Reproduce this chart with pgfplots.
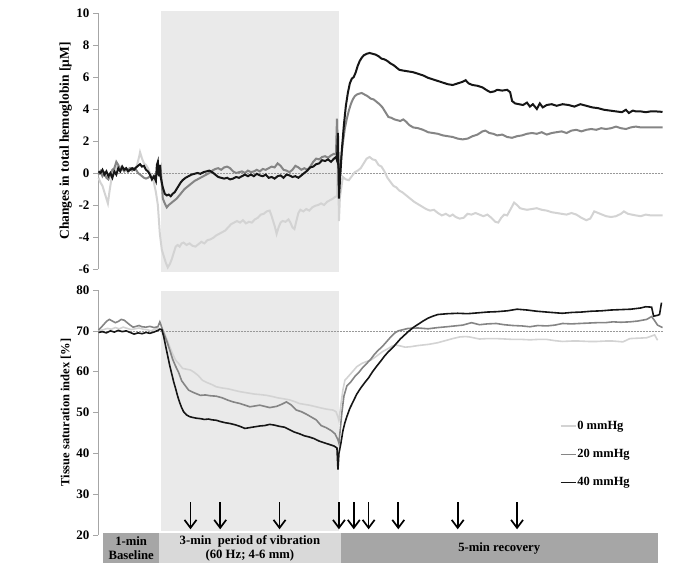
\documentclass[border=0pt]{standalone}
\usepackage{pgfplots}
\pgfplotsset{compat=1.18}
\usepackage{fontspec}
\setmainfont{Liberation Serif}
\usetikzlibrary{arrows.meta}

\definecolor{c0}{HTML}{D3D3D3}
\definecolor{c20}{HTML}{858585}
\definecolor{c40}{HTML}{161616}
\definecolor{bggray}{HTML}{EAEAEA}
\definecolor{barlight}{HTML}{D9D9D9}
\definecolor{bardark}{HTML}{A6A6A6}

\newcommand{\lblfont}{\fontsize{12.7}{14}\selectfont\bfseries}

\pgfplotsset{
  panel/.style={
    scale only axis,
    width=565pt,
    xmin=-3.5, xmax=567.5,
    axis x line=none,
    axis y line*=left,
    y axis line style={gray!70, line width=0.6pt},
    ytick pos=left,
    tick align=outside,
    major tick length=5pt,
    every tick/.style={gray!70, line width=0.6pt},
    clip=false,
    /pgf/number format/assume math mode=true,
    yticklabel style={font=\fontsize{13}{13}\selectfont\bfseries},
    ylabel style={at={(axis description cs:-0.057,0.5)}, anchor=center},
  },
}

\begin{document}
\begin{tikzpicture}
\useasboundingbox (0,0) rectangle (685pt,574pt);

% ---------------- top panel: total hemoglobin ----------------
\begin{axis}[panel,
    at={(98pt,305pt)}, anchor=south west,
    height=256pt,
    ymin=-6, ymax=10,
    ytick={-6,-4,...,10},
    ylabel={\fontsize{13.5}{14}\selectfont\bfseries Changes in total hemoglobin [μM]},
  ]
  \fill[bggray] (axis cs:60,-6.2) rectangle (axis cs:240,10.1);
  \draw[gray!80, densely dotted, line width=0.5pt] (axis cs:-3.5,0) -- (axis cs:567.5,0);

  \addplot[c0, line width=2pt] coordinates {
    (-3,-0.3)(-1,-0.6)(1,-0.8)(3,-1.2)(5,-1.6)(6.5,-1.9)(8,-1.2)(10,-0.4)(12,0.0)(14,0.2)
    (16,0.5)(18,0.3)(20,0.4)(22,0.2)(24,0.3)(26,0.1)(28,0.3)(30,0.2)(32,0.3)(34,0.2)
    (36,0.5)(38,1.0)(39,1.3)(41,0.9)(43,0.6)(45,0.5)(47,0.3)(49,0.0)(51,-0.2)(53,-0.6)
    (55,-1.2)(57,-2.0)(59,-3.8)(61,-4.8)(63,-5.2)(65,-5.6)(67,-5.9)(69,-5.7)(71,-5.4)(73,-5.0)
    (75,-4.6)(77,-4.5)(79,-4.6)(81,-4.4)(83,-4.35)(86,-4.5)(89,-4.4)(92,-4.55)(95,-4.6)(98,-4.45)
    (101,-4.3)(104,-4.4)(107,-4.2)(110,-4.15)(113,-4.05)(116,-3.9)(119,-3.8)(122,-3.7)(125,-3.6)(128,-3.4)
    (131,-3.2)(134,-3.1)(137,-3.0)(140,-3.1)(143,-2.95)(146,-3.15)(149,-3.05)(152,-3.1)(155,-2.9)(158,-2.8)
    (161,-2.6)(164,-2.55)(167,-2.4)(170,-2.35)(172,-2.7)(175,-3.3)(177,-3.8)(179,-3.4)(181,-3.1)(183,-3.0)
    (186,-3.05)(189,-2.9)(191,-3.1)(193,-3.4)(195,-3.5)(197,-3.0)(199,-2.5)(201,-2.3)(204,-2.4)(207,-2.25)
    (210,-2.35)(213,-2.15)(216,-2.05)(219,-2.0)(222,-1.9)(225,-2.0)(228,-1.8)(231,-1.7)(234,-1.6)(236,-1.5)
    (238,-1.45)(239,1.1)(239.5,-0.5)(240,-3.0)(241,-1.5)(244,-0.25)(247,-0.4)(250,-0.45)(253,-0.2)(256,0.05)
    (259,0.15)(262,0.3)(265,0.6)(268,0.9)(271,1.0)(274,0.85)(277,0.8)(280,0.5)(283,0.4)(286,0.1)
    (289,-0.3)(292,-0.55)(295,-0.8)(298,-0.9)(301,-1.1)(304,-1.2)(308,-1.4)(312,-1.6)(316,-1.8)(320,-1.95)
    (324,-2.1)(328,-2.25)(332,-2.35)(336,-2.3)(340,-2.5)(344,-2.65)(348,-2.55)(352,-2.7)(355,-2.6)(358,-2.75)
    (362,-2.85)(366,-2.8)(370,-2.55)(374,-2.6)(378,-2.5)(382,-2.6)(386,-2.7)(390,-2.6)(394,-2.8)(398,-3.05)
    (401,-3.1)(404,-2.8)(407,-2.6)(410,-2.65)(414,-2.2)(417,-1.85)(420,-2.0)(423,-2.2)(426,-2.25)(430,-2.3)
    (435,-2.25)(440,-2.2)(445,-2.3)(450,-2.35)(455,-2.45)(460,-2.5)(465,-2.55)(470,-2.6)(475,-2.5)(480,-2.6)
    (485,-2.8)(490,-2.95)(494,-2.85)(498,-2.4)(502,-2.5)(506,-2.6)(510,-2.7)(515,-2.75)(520,-2.7)(525,-2.55)
    (528,-2.4)(532,-2.55)(536,-2.6)(540,-2.65)(545,-2.7)(550,-2.6)(555,-2.65)(560,-2.65)(567,-2.65)
  };
  \addplot[c20, line width=2pt] coordinates {
    (-3,-0.1)(-1,0.1)(1,-0.2)(3,0.0)(5,-0.3)(7,-0.4)(9,-0.1)(11,0.2)(13,0.3)(15,0.7)
    (17,0.5)(19,0.2)(21,0.3)(23,0.1)(25,0.25)(27,0.2)(29,0.3)(31,0.15)(33,0.3)(35,0.2)
    (37,0.0)(39,-0.1)(41,-0.2)(43,-0.3)(45,-0.35)(47,-0.3)(49,-0.2)(51,-0.3)(53,-0.25)(55,-0.2)
    (57,0.3)(59,-0.1)(60,0.2)(62,-1.6)(64,-1.9)(66,-2.15)(68,-2.0)(70,-1.9)(72,-1.8)(74,-1.7)
    (76,-1.6)(78,-1.45)(80,-1.3)(82,-1.15)(84,-1.0)(86,-0.9)(88,-0.8)(91,-0.65)(94,-0.5)(97,-0.4)
    (100,-0.3)(103,-0.2)(106,-0.1)(109,0.0)(112,0.15)(115,0.25)(118,0.3)(121,0.2)(124,0.35)(127,0.4)
    (130,0.3)(133,0.1)(136,0.0)(139,0.05)(142,0.1)(145,0.0)(148,0.15)(151,0.05)(154,0.1)(157,0.2)
    (160,0.1)(163,0.25)(166,0.2)(169,0.3)(172,0.4)(175,0.35)(178,0.6)(181,0.45)(184,0.2)(187,0.15)
    (190,0.05)(193,0.2)(196,0.45)(199,0.35)(202,0.2)(205,0.3)(208,0.2)(211,0.4)(214,0.7)(217,0.9)
    (220,0.85)(223,1.0)(226,1.05)(229,0.95)(232,1.1)(235,1.2)(237,1.15)(238,3.4)(239,1.0)(240,-0.9)
    (242,0.8)(244,1.9)(246,2.8)(248,3.4)(250,3.9)(252,4.3)(254,4.6)(256,4.8)(258,4.9)(260,4.95)
    (263,5.0)(266,4.9)(269,4.8)(272,4.65)(275,4.6)(278,4.45)(281,4.3)(284,4.1)(287,3.8)(290,3.5)
    (293,3.45)(296,3.35)(299,3.3)(302,3.25)(305,3.35)(308,3.2)(311,3.0)(315,2.85)(320,2.8)(325,2.7)
    (330,2.55)(335,2.5)(340,2.45)(345,2.35)(350,2.3)(355,2.25)(360,2.15)(365,2.1)(370,2.15)(375,2.3)
    (380,2.4)(385,2.6)(388,2.65)(392,2.5)(396,2.45)(400,2.35)(405,2.4)(410,2.25)(415,2.2)(420,2.3)
    (425,2.35)(430,2.45)(435,2.5)(440,2.45)(445,2.55)(450,2.4)(455,2.5)(460,2.55)(465,2.6)(470,2.5)
    (475,2.65)(480,2.7)(485,2.6)(490,2.7)(495,2.75)(500,2.7)(505,2.8)(510,2.75)(515,2.8)(520,2.9)
    (525,2.8)(530,2.75)(535,2.85)(540,2.9)(545,2.85)(550,2.85)(555,2.85)(560,2.85)(567,2.85)
  };
  \addplot[c40, line width=2pt] coordinates {
    (-3,0.1)(-1,0.0)(1,0.2)(3,-0.1)(5,0.1)(7,-0.2)(9,0.0)(11,-0.3)(13,0.1)(15,-0.1)
    (17,0.3)(19,0.1)(21,0.4)(23,0.2)(25,0.3)(27,0.1)(29,0.2)(31,0.3)(33,0.2)(35,0.35)
    (37,0.45)(39,0.55)(41,0.4)(43,0.45)(45,0.2)(47,0.1)(49,-0.1)(51,-0.4)(53,-0.2)(55,-0.5)
    (56,0.5)(57,0.7)(58,-0.2)(59,0.5)(60,-0.3)(62,-0.9)(64,-1.3)(66,-1.4)(68,-1.35)(70,-1.45)
    (72,-1.3)(74,-1.2)(76,-1.0)(78,-0.8)(80,-0.6)(82,-0.45)(85,-0.3)(88,-0.2)(91,-0.1)(94,-0.05)
    (97,0.0)(100,-0.05)(103,0.05)(106,0.1)(109,0.15)(112,0.05)(115,-0.1)(118,-0.25)(121,-0.3)(124,-0.35)
    (127,-0.3)(130,-0.4)(133,-0.35)(136,-0.25)(139,-0.3)(142,-0.2)(145,-0.1)(148,-0.2)(151,-0.1)(154,-0.2)
    (157,-0.05)(160,-0.15)(163,-0.2)(166,-0.1)(169,-0.3)(172,-0.25)(175,-0.35)(178,-0.2)(181,-0.15)(184,-0.3)
    (187,-0.1)(190,-0.15)(193,-0.25)(196,-0.2)(199,-0.3)(202,-0.15)(205,0.0)(208,0.15)(211,0.35)(214,0.4)
    (217,0.55)(220,0.6)(223,0.8)(226,0.75)(229,0.85)(232,0.7)(235,0.9)(237,1.0)(238,0.8)(239,2.5)
    (239.5,0.5)(240,-1.6)(241,-0.5)(243,1.5)(245,3.0)(247,4.2)(249,5.0)(251,5.6)(253,5.9)(255,6.0)
    (257,6.3)(259,6.7)(261,7.0)(263,7.2)(265,7.35)(268,7.45)(271,7.5)(274,7.45)(277,7.4)(280,7.3)
    (283,7.15)(286,7.1)(289,7.0)(292,6.85)(295,6.75)(298,6.6)(301,6.45)(305,6.4)(310,6.35)(315,6.3)
    (320,6.2)(325,6.1)(330,5.95)(335,5.85)(340,5.75)(345,5.65)(350,5.55)(355,5.5)(360,5.6)(365,5.7)
    (368,5.8)(371,5.6)(375,5.5)(380,5.45)(385,5.35)(390,5.15)(393,5.05)(397,5.1)(400,5.2)(405,5.15)
    (410,5.2)(413,5.05)(415,4.5)(418,4.35)(422,4.3)(426,4.25)(430,4.4)(433,4.15)(436,4.3)(440,4.0)
    (443,4.35)(446,4.1)(450,4.25)(455,4.3)(460,4.2)(466,4.3)(472,4.25)(478,4.15)(484,4.3)(490,4.2)
    (496,4.1)(502,4.05)(508,3.95)(514,3.9)(520,3.85)(526,3.8)(530,3.95)(533,3.75)(537,3.9)(540,3.85)
    (545,3.85)(550,3.8)(555,3.85)(560,3.85)(567,3.82)
  };
\end{axis}

% ---------------- bottom panel: tissue saturation index ----------------
\begin{axis}[panel,
    at={(98pt,39pt)}, anchor=south west,
    height=245pt,
    ymin=20, ymax=80,
    ytick={20,30,...,80},
    ylabel={\fontsize{12.5}{13}\selectfont\bfseries Tissue saturation index [\%]},
    legend style={at={(rel axis cs:0.817,0.47)}, anchor=north west, draw=none, fill=none,
      row sep=16.5pt, inner sep=0pt,
      nodes={inner sep=1pt}},
    legend cell align=left,
    legend image code/.code={\draw[#1, line width=1.5pt] (0pt,0pt) -- (15pt,0pt);},
  ]
  \fill[bggray] (axis cs:60,21.1) rectangle (axis cs:240,79.8);
  \draw[gray!80, densely dotted, line width=0.5pt] (axis cs:-3.5,70) -- (axis cs:567.5,70);

  % phase bar
  \fill[bardark]  (axis cs:1.5,13.25) rectangle (axis cs:58.5,20.6);
  \fill[barlight] (axis cs:58.5,13.25) rectangle (axis cs:242,20.6);
  \fill[bardark]  (axis cs:242,13.25) rectangle (axis cs:562,20.6);
  \node[font=\lblfont, align=center] at (axis cs:30,16.8) {1-min\\Baseline};
  \node[font=\lblfont, align=center] at (axis cs:150,16.8) {3-min\ \ period of vibration\\(60 Hz; 4-6 mm)};
  \node[font=\lblfont] at (axis cs:402,16.7) {5-min recovery};

  % sampling arrows
  \pgfplotsinvokeforeach{90,120,180,240,255,270,300,360,420}{
    \draw[line width=1.7pt, -{Straight Barb[length=8pt, width=12pt, line width=1.7pt]}]
      (axis cs:#1,28.0) -- (axis cs:#1,21.4);
  }

  \addplot[c0, line width=1.6pt] coordinates {
    (-3,70.0)(2,70.3)(6,70.6)(10,70.4)(14,70.8)(18,70.5)(22,70.9)(26,70.6)(30,70.3)(34,70.5)
    (38,70.7)(42,70.4)(46,70.3)(50,70.0)(54,70.4)(58,70.6)(61,70.3)(63,69.8)(66,68.0)(69,66.1)
    (72,64.3)(75,62.8)(78,62.0)(82,60.8)(86,60.6)(90,60.4)(94,59.8)(98,59.0)(102,57.9)(107,57.3)
    (112,56.8)(116,56.3)(122,56.0)(128,55.8)(133,55.5)(140,55.1)(145,54.9)(150,54.7)(155,54.5)(160,54.4)
    (167,54.2)(173,53.9)(178,53.6)(183,53.4)(190,53.1)(195,52.7)(200,52.2)(205,52.0)(210,51.8)(217,51.4)
    (222,51.1)(228,50.8)(234,50.6)(237,50.2)(239,48.9)(240,48.0)(242,52.0)(244,55.5)(246,57.9)(249,58.7)
    (253,59.8)(258,61.2)(263,62.0)(268,62.5)(272,62.8)(278,63.8)(284,64.9)(290,65.7)(294,66.3)(298,66.5)
    (302,66.3)(307,66.0)(312,66.1)(320,66.4)(331,66.7)(340,67.1)(349,67.7)(355,68.1)(362,68.5)(368,68.6)
    (372,68.5)(382,68.0)(390,68.1)(399,68.1)(408,68.0)(416,67.9)(425,67.9)(433,67.8)(441,67.9)(450,67.9)
    (458,67.6)(466,67.4)(475,67.5)(483,67.5)(492,67.4)(501,67.4)(509,67.5)(517,67.5)(527,67.3)(534,68.1)
    (542,68.2)(551,68.3)(559,69.0)(562,67.7)
  };
  \addlegendentry{\fontsize{12.5}{13}\selectfont\bfseries 0 mmHg}
  \addplot[c20, line width=1.6pt] coordinates {
    (-3,70.2)(1,71.2)(5,72.3)(8,72.8)(11,72.4)(14,72.0)(17,72.3)(20,72.8)(23,72.6)(26,72.0)
    (29,71.4)(32,70.9)(35,71.1)(38,71.3)(41,71.0)(45,70.9)(49,71.1)(53,70.8)(57,71.0)(59,72.2)
    (61,70.8)(63,69.4)(66,67.5)(69,65.3)(72,63.0)(75,61.3)(78,59.8)(81,57.8)(84,56.8)(88,55.5)
    (92,55.0)(96,54.6)(100,54.2)(105,54.3)(110,54.1)(116,54.0)(122,53.6)(128,53.0)(133,52.6)(140,52.2)
    (145,51.8)(150,51.4)(155,51.6)(160,51.8)(165,51.5)(170,51.2)(177,51.5)(182,52.0)(187,52.6)(192,51.8)
    (197,50.6)(202,50.2)(207,49.6)(212,48.9)(217,48.2)(222,46.8)(227,46.3)(232,45.6)(236,44.8)(239,43.3)
    (240,42.5)(243,50.0)(245,54.0)(248,56.5)(252,57.5)(256,58.8)(260,59.8)(264,61.0)(268,62.0)(272,63.0)
    (276,64.3)(280,65.3)(284,66.2)(288,67.3)(292,68.4)(296,69.4)(300,70.0)(305,70.3)(310,70.6)(320,70.7)
    (330,70.5)(340,70.8)(349,71.0)(357,71.2)(365,71.4)(374,72.0)(382,71.5)(390,71.7)(399,71.8)(407,71.5)
    (416,71.3)(425,71.2)(433,71.0)(441,71.3)(450,71.2)(458,71.4)(466,71.8)(475,71.7)(483,71.8)(492,71.9)
    (501,72.0)(509,72.0)(517,72.2)(525,72.1)(534,72.2)(542,72.4)(551,72.8)(556,73.5)(559,72.5)(562,71.4)
    (567,70.8)
  };
  \addlegendentry{\fontsize{12.5}{13}\selectfont\bfseries 20 mmHg}
  \addplot[c40, line width=1.6pt] coordinates {
    (-3,69.6)(1,69.8)(5,69.5)(9,70.0)(13,69.7)(17,70.1)(21,69.8)(25,70.0)(29,69.6)(33,69.2)
    (37,69.5)(41,69.3)(45,69.6)(49,69.4)(53,69.7)(57,70.1)(59,70.4)(61,70.3)(63,68.5)(65,66.1)
    (67,63.8)(69,61.5)(71,59.5)(73,57.5)(75,55.8)(77,54.0)(79,52.5)(81,51.2)(83,50.2)(86,49.4)
    (89,49.0)(92,48.8)(96,48.6)(100,48.5)(104,48.3)(108,48.4)(112,48.2)(116,48.1)(120,47.8)(125,47.5)
    (130,47.3)(135,47.0)(140,46.6)(145,46.1)(150,46.3)(155,46.5)(160,46.7)(165,46.8)(170,47.1)(175,46.9)
    (180,46.6)(185,46.4)(190,45.8)(195,45.2)(200,44.8)(205,44.3)(210,44.0)(215,43.6)(220,43.0)(225,42.6)
    (230,42.2)(235,41.8)(238,41.3)(239,36.0)(240,40.0)(242,42.5)(244,45.5)(246,47.5)(248,49.0)(251,51.0)
    (254,52.5)(258,54.5)(262,56.0)(266,57.3)(270,58.5)(274,60.0)(278,61.3)(282,62.5)(286,63.8)(290,64.9)
    (294,65.8)(298,66.9)(302,68.0)(306,68.9)(310,69.8)(315,70.8)(320,71.6)(325,72.4)(330,73.1)(335,73.6)
    (340,74.0)(345,74.1)(350,74.2)(360,74.3)(370,74.2)(380,74.4)(390,74.6)(400,74.7)(410,74.9)(420,75.3)
    (430,75.1)(440,74.8)(450,74.6)(460,74.4)(466,74.3)(475,74.5)(485,74.6)(495,74.8)(505,74.9)(515,75.1)
    (525,75.2)(535,75.3)(545,75.6)(550,75.9)(556,75.8)(558,73.6)(562,73.8)(564,74.0)(566,76.9)
  };
  \addlegendentry{\fontsize{12.5}{13}\selectfont\bfseries 40 mmHg}
\end{axis}
\end{tikzpicture}
\end{document}
